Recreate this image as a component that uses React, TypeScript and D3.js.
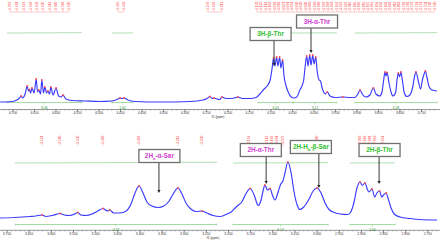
import React from "react";
import * as d3 from "d3";

// ---------- axis ticks (ppm) ----------
const TOP_TICKS = [4.7, 4.65, 4.6, 4.55, 4.5, 4.45, 4.4, 4.35, 4.3, 4.25, 4.2, 4.15, 4.1, 4.05, 4.0, 3.95, 3.9, 3.85, 3.8, 3.75];
const BOTTOM_TICKS = [3.7, 3.65, 3.6, 3.55, 3.5, 3.45, 3.4, 3.35, 3.3, 3.25, 3.2, 3.15, 3.1, 3.05, 3.0, 2.95, 2.9, 2.85, 2.8, 2.75];

// ---------- spectrum, top panel ----------
const TOP_PPM = [4.730, 4.702, 4.691, 4.686, 4.681, 4.678, 4.672, 4.667, 4.664, 4.662, 4.659, 4.656, 4.651, 4.646, 4.643, 4.640, 4.636, 4.633, 4.629, 4.626, 4.622, 4.619, 4.615, 4.612, 4.607, 4.600, 4.594, 4.588, 4.584, 4.577, 4.563, 4.533, 4.498, 4.470, 4.458, 4.451, 4.447, 4.442, 4.433, 4.416, 4.358, 4.288, 4.258, 4.249, 4.242, 4.237, 4.233, 4.226, 4.219, 4.214, 4.205, 4.191, 4.177, 4.167, 4.149, 4.135, 4.126, 4.116, 4.109, 4.102, 4.098, 4.094, 4.091, 4.087, 4.084, 4.080, 4.077, 4.073, 4.070, 4.065, 4.060, 4.053, 4.047, 4.040, 4.033, 4.029, 4.024, 4.021, 4.017, 4.014, 4.010, 4.007, 4.003, 4.000, 3.996, 3.993, 3.988, 3.985, 3.981, 3.974, 3.969, 3.963, 3.951, 3.933, 3.916, 3.905, 3.898, 3.893, 3.888, 3.879, 3.870, 3.862, 3.856, 3.847, 3.842, 3.838, 3.835, 3.833, 3.830, 3.826, 3.821, 3.816, 3.810, 3.807, 3.804, 3.801, 3.798, 3.794, 3.790, 3.784, 3.777, 3.771, 3.766, 3.763, 3.758, 3.752, 3.748, 3.744, 3.741, 3.737, 3.733, 3.726, 3.714];
const TOP_INT = [1, 1.5, 3, 4.5, 7, 5, 9, 17, 12, 13.5, 10, 15, 10, 24, 11, 13, 9, 23, 10, 16, 10, 12, 9, 16, 8, 15, 7, 6, 8, 4, 2.5, 2, 1.5, 2, 3.5, 5, 4.5, 5, 3, 1.5, 1, 1.5, 3, 4.5, 6.5, 4.5, 5, 4, 3.5, 6, 4.5, 4.5, 6, 4.5, 4.5, 5.5, 9, 14, 17, 23, 33, 45, 37, 46, 37, 46, 35, 43, 28, 17, 11, 6, 5, 6, 13, 16, 23, 35, 47, 37, 48, 38, 48, 39, 46, 33, 23, 22, 15, 9, 11, 7, 5.5, 6, 5.5, 5.5, 9, 13, 9, 6, 8, 15, 9, 7, 11, 23, 31, 27, 30.5, 21, 11, 7, 11, 23, 30, 26, 31, 21, 10, 6.5, 8, 15, 27, 31, 23, 14, 23, 29, 32, 25, 17, 13, 12];

// ---------- spectrum, bottom panel ----------
const BOTTOM_PPM = [3.716, 3.682, 3.648, 3.635, 3.621, 3.612, 3.598, 3.580, 3.571, 3.558, 3.547, 3.540, 3.533, 3.522, 3.508, 3.495, 3.483, 3.474, 3.468, 3.459, 3.445, 3.431, 3.420, 3.411, 3.402, 3.393, 3.384, 3.373, 3.359, 3.346, 3.334, 3.325, 3.314, 3.305, 3.296, 3.285, 3.273, 3.260, 3.249, 3.235, 3.219, 3.206, 3.194, 3.185, 3.179, 3.170, 3.161, 3.151, 3.142, 3.133, 3.127, 3.122, 3.118, 3.112, 3.106, 3.101, 3.095, 3.088, 3.082, 3.077, 3.072, 3.066, 3.059, 3.052, 3.045, 3.039, 3.030, 3.018, 3.009, 3.000, 2.991, 2.982, 2.973, 2.964, 2.948, 2.930, 2.924, 2.917, 2.910, 2.903, 2.898, 2.892, 2.886, 2.883, 2.876, 2.870, 2.865, 2.859, 2.854, 2.849, 2.844, 2.840, 2.833, 2.826, 2.813, 2.790, 2.768, 2.729];
const BOTTOM_INT = [2, 2.5, 3.5, 4, 5, 3.5, 4.5, 6.5, 5, 4.5, 6, 7.5, 5, 4.5, 6, 9, 11.5, 9, 10, 7, 7, 9, 16, 27, 34, 27, 18, 14, 12.5, 14, 19, 26, 32, 26, 17, 11, 8.5, 9, 7, 4.5, 3.5, 5.5, 8, 12, 14.5, 18, 26, 31.5, 25, 14.5, 19, 29, 35, 30, 31.5, 25, 20, 28, 36, 39, 48, 58, 48, 28, 15, 10.5, 13, 21, 29, 32, 27, 17, 10.5, 8, 6, 5.5, 8, 17, 32, 38, 34.5, 37, 30, 28, 31, 23, 27, 29, 23, 25.5, 27, 22, 12, 6, 3, 1.5, 0.5, 0];

// ---------- peak pick labels (ppm) ----------
const TOP_PEAK_LABELS = [4.707, 4.691, 4.674, 4.658, 4.644, 4.630, 4.614, 4.600, 4.584, 4.570, 4.456, 4.442, 4.247, 4.233, 4.214, 4.133, 4.123, 4.113, 4.102, 4.092, 4.082, 4.071, 4.061, 4.051, 4.040, 4.030, 4.020, 4.009, 3.999, 3.989, 3.978, 3.968, 3.958, 3.947, 3.937, 3.927, 3.916, 3.906, 3.896, 3.885, 3.875, 3.865, 3.854, 3.844, 3.834, 3.823, 3.813, 3.803, 3.792, 3.782, 3.772, 3.761, 3.751, 3.741, 3.730, 3.720];
const BOTTOM_PEAK_LABELS = [3.621, 3.580, 3.540, 3.483, 3.402, 3.314, 3.260, 3.154, 3.113, 3.102, 3.091, 3.077, 3.000, 2.903, 2.892, 2.881, 2.869, 2.851];

// ---------- integrals ----------
const TOP_INTEGRAL_FROM = [4.714, 4.470, 4.130, 4.049, 3.905];
const TOP_INTEGRAL_TO = [4.540, 4.421, 4.049, 3.947, 3.714];
const TOP_INTEGRAL_VALUES = ["3.06", "1.04", "3.00", "3.11", "6.08"];
const BOTTOM_INTEGRAL_FROM = [3.682, 3.190, 2.926];
const BOTTOM_INTEGRAL_TO = [3.226, 2.975, 2.824];
const BOTTOM_INTEGRAL_VALUES = ["4.22", "4.13", "2.00"];

// ---------- annotations ----------
const TOP_ANN_TEXT = ["3H-β-Thr", "3H-α-Thr"];
const TOP_ANN_BOX_PPM = [4.101, 3.993];
const TOP_ANN_BOX_INT = [69, 81.5];
const TOP_ANN_ARROW_PPM = [4.093, 4.007];
const TOP_ANN_ARROW_FROM = [62.5, 75];
const TOP_ANN_ARROW_TO = [37, 50];

const BOTTOM_ANN_TEXT = ["2H|a|-α-Sar", "2H-α-Thr", "2H-H|b|-β-Sar", "2H-β-Thr"];
const BOTTOM_ANN_BOX_PPM = [3.356, 3.127, 3.014, 2.859];
const BOTTOM_ANN_BOX_INT = [64, 70, 73, 70];
const BOTTOM_ANN_ARROW_PPM = [3.357, 3.115, 2.996, 2.86];
const BOTTOM_ANN_ARROW_FROM = [57.5, 63.5, 66.5, 63.5];
const BOTTOM_ANN_ARROW_TO = [27, 36, 32, 36];

const GREEN = "#2fc02f";
const MAGENTA = "#d040d0";
const BLUE = "#3a3aff";
const RED = "#ff4a4a";
const FONT = "'Liberation Sans', Arial, sans-serif";

type PanelProps = {
  ppm: number[];
  ints: number[];
  x: d3.ScaleLinear<number, number>;
  y: d3.ScaleLinear<number, number>;
  ticks: number[];
  axisY: number;
  titleX: number;
  labels: number[];
  labelBase: number;
  intFrom: number[];
  intTo: number[];
  intValues: string[];
  intUpperY: number;
  intLowerY: number;
  annText: string[];
  annBoxPpm: number[];
  annBoxInt: number[];
  annArrowPpm: number[];
  annArrowFrom: number[];
  annArrowTo: number[];
};

function Panel(p: PanelProps) {
  const pts = p.ppm.map((v, i) => [v, p.ints[i]] as [number, number]);
  const line = d3
    .line<[number, number]>()
    .x((d) => p.x(d[0]))
    .y((d) => p.y(d[1]))
    .curve(d3.curveMonotoneX);

  const maxima = pts.filter(
    (d, i) => i > 0 && i < pts.length - 1 && d[1] > pts[i - 1][1] && d[1] >= pts[i + 1][1] && d[1] > 4.2
  );

  const [d0, d1] = p.x.domain();
  const minor = d3.range(Math.ceil(Math.min(d0, d1) * 100), Math.floor(Math.max(d0, d1) * 100) + 1).map((v) => v / 100);
  const fmt = d3.format(".3f");

  const lx = p.labels.map((v) => p.x(v));
  const clusters: number[][] = [];
  lx.forEach((v, i) => {
    if (i === 0 || Math.abs(v - lx[i - 1]) > 9) clusters.push([v]);
    else clusters[clusters.length - 1].push(v);
  });

  return (
    <g>
      {p.intFrom.map((f, i) => {
        const xa = p.x(f);
        const xb = p.x(p.intTo[i]);
        const xc = (xa + xb) / 2;
        return (
          <g key={"int" + i}>
            <line x1={xa} x2={xb} y1={p.intUpperY} y2={p.intUpperY - (xb - xa) * 0.004} stroke="#a9dca9" strokeWidth={0.9} />
            <line x1={xa} x2={xb} y1={p.intLowerY} y2={p.intLowerY} stroke="#8fd08f" strokeWidth={0.8} />
            <line x1={xa} x2={xa} y1={p.intLowerY - 1} y2={p.intLowerY + 1} stroke="#8fd08f" strokeWidth={0.6} />
            <line x1={xb} x2={xb} y1={p.intLowerY - 1} y2={p.intLowerY + 1} stroke="#8fd08f" strokeWidth={0.6} />
            <line x1={xc} x2={xc} y1={p.intLowerY} y2={p.intLowerY + 2} stroke="#8fd08f" strokeWidth={0.6} />
            <text x={xc} y={p.intLowerY + 6} fontSize={3.4} fill="#2a9a2a" textAnchor="middle" fontFamily={FONT}>
              {p.intValues[i]}
            </text>
          </g>
        );
      })}

      <path d={line(pts) || ""} fill="none" stroke={BLUE} strokeWidth={1.15} strokeLinejoin="round" />
      {maxima.map((d, i) => (
        <circle key={"mx" + i} cx={p.x(d[0])} cy={p.y(d[1])} r={0.9} fill={RED} />
      ))}

      {p.labels.map((v, i) => {
        const xx = p.x(v);
        return (
          <g key={"pl" + i}>
            <text
              transform={`translate(${xx + 1.2},${p.labelBase}) rotate(-90)`}
              fontSize={3.4}
              fill={RED}
              fontFamily={FONT}
            >
              {fmt(v)}
            </text>
            <line x1={xx} x2={xx} y1={p.labelBase + 0.5} y2={p.labelBase + 2} stroke="#ff8a8a" strokeWidth={0.5} />
          </g>
        );
      })}
      {clusters.map((c, i) =>
        c.length > 1 ? (
          <line key={"cl" + i} x1={c[0]} x2={c[c.length - 1]} y1={p.labelBase + 2} y2={p.labelBase + 2} stroke="#ff9a9a" strokeWidth={0.5} />
        ) : null
      )}

      <line x1={0} x2={440} y1={p.axisY} y2={p.axisY} stroke="#555" strokeWidth={0.6} />
      {minor.map((v, i) => (
        <line key={"mn" + i} x1={p.x(v)} x2={p.x(v)} y1={p.axisY} y2={p.axisY + 1.2} stroke="#666" strokeWidth={0.4} />
      ))}
      {p.ticks.map((t, i) => (
        <g key={"tk" + i}>
          <line x1={p.x(t)} x2={p.x(t)} y1={p.axisY} y2={p.axisY + 2.2} stroke="#444" strokeWidth={0.6} />
          <text x={p.x(t)} y={p.axisY + 4.6} fontSize={3.3} fill="#333" textAnchor="middle" fontFamily={FONT}>
            {fmt(t)}
          </text>
        </g>
      ))}
      <text x={p.titleX} y={p.axisY + 8.4} fontSize={3.4} fill="#333" textAnchor="middle" fontFamily={FONT}>
        f1 (ppm)
      </text>

      {p.annText.map((t, i) => {
        const cx = p.x(p.annBoxPpm[i]);
        const cy = p.y(p.annBoxInt[i]);
        const ax = p.x(p.annArrowPpm[i]);
        const color = t.includes("α") ? MAGENTA : GREEN;
        const parts = t.split("|");
        const tipY = p.y(p.annArrowTo[i]);
        return (
          <g key={"an" + i}>
            <line x1={ax} x2={ax} y1={p.y(p.annArrowFrom[i])} y2={tipY - 2} stroke="#222" strokeWidth={0.9} />
            <path d={`M${ax - 1.6},${tipY - 3} L${ax + 1.6},${tipY - 3} L${ax},${tipY} Z`} fill="#222" />
            <rect x={cx - 20.5} y={cy - 6.5} width={41} height={13} fill="#fff" stroke="#707070" strokeWidth={1.3} />
            <text x={cx} y={cy + 2.3} fontSize={6.4} fontWeight="bold" fill={color} textAnchor="middle" fontFamily={FONT}>
              {parts.map((s, k) =>
                k % 2 === 1 ? (
                  <tspan key={k} fontSize={4.3} dy={1.4}>
                    {s}
                  </tspan>
                ) : (
                  <tspan key={k} dy={k > 0 ? -1.4 : 0}>
                    {s}
                  </tspan>
                )
              )}
            </text>
          </g>
        );
      })}
    </g>
  );
}

export default function App() {
  const xTop = d3.scaleLinear().domain([4.7233, 3.714]).range([3, 437]);
  const yTop = d3.scaleLinear().domain([0, 100]).range([103, 3]);
  const xBot = d3.scaleLinear().domain([3.7158, 2.7293]).range([0, 437]);
  const yBot = d3.scaleLinear().domain([0, 100]).range([220, 120]);

  return (
    <svg
      width={440}
      height={240}
      viewBox="0 0 440 240"
      style={{ position: "absolute", left: 0, top: 0, background: "#fff" }}
    >
      <rect x={0} y={0} width={440} height={240} fill="#fff" />
      <Panel
        ppm={TOP_PPM}
        ints={TOP_INT}
        x={xTop}
        y={yTop}
        ticks={TOP_TICKS}
        axisY={109.5}
        titleX={218}
        labels={TOP_PEAK_LABELS}
        labelBase={10}
        intFrom={TOP_INTEGRAL_FROM}
        intTo={TOP_INTEGRAL_TO}
        intValues={TOP_INTEGRAL_VALUES}
        intUpperY={33}
        intLowerY={102.5}
        annText={TOP_ANN_TEXT}
        annBoxPpm={TOP_ANN_BOX_PPM}
        annBoxInt={TOP_ANN_BOX_INT}
        annArrowPpm={TOP_ANN_ARROW_PPM}
        annArrowFrom={TOP_ANN_ARROW_FROM}
        annArrowTo={TOP_ANN_ARROW_TO}
      />
      <Panel
        ppm={BOTTOM_PPM}
        ints={BOTTOM_INT}
        x={xBot}
        y={yBot}
        ticks={BOTTOM_TICKS}
        axisY={230.3}
        titleX={213}
        labels={BOTTOM_PEAK_LABELS}
        labelBase={144}
        intFrom={BOTTOM_INTEGRAL_FROM}
        intTo={BOTTOM_INTEGRAL_TO}
        intValues={BOTTOM_INTEGRAL_VALUES}
        intUpperY={163}
        intLowerY={224.5}
        annText={BOTTOM_ANN_TEXT}
        annBoxPpm={BOTTOM_ANN_BOX_PPM}
        annBoxInt={BOTTOM_ANN_BOX_INT}
        annArrowPpm={BOTTOM_ANN_ARROW_PPM}
        annArrowFrom={BOTTOM_ANN_ARROW_FROM}
        annArrowTo={BOTTOM_ANN_ARROW_TO}
      />
    </svg>
  );
}
